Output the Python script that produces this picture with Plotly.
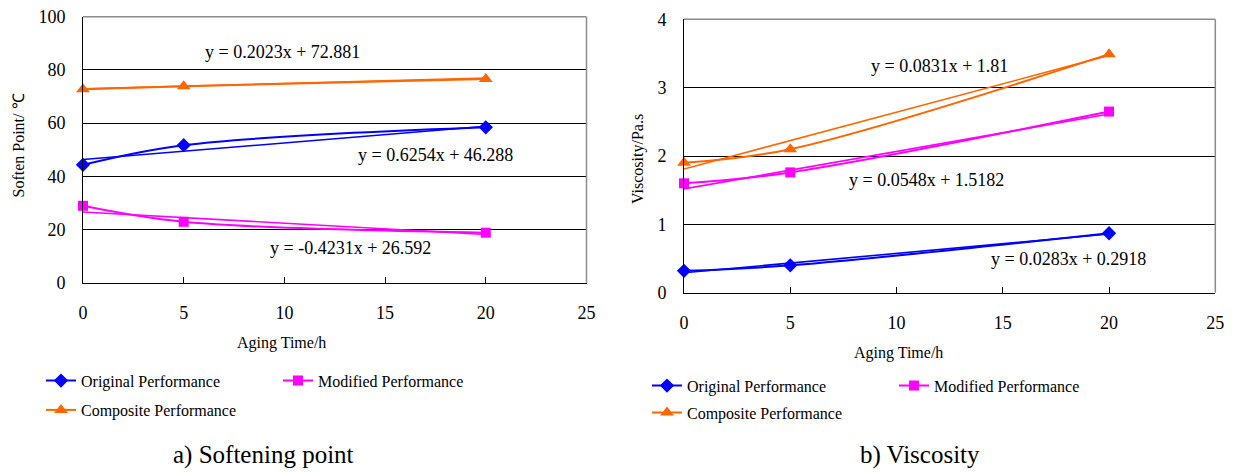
import plotly.graph_objects as go

SERIF = "Liberation Serif"

# Aging time (h) at which both properties were measured
aging_hours = [0, 5, 20]

# Softening point, degC
soft_original = [44.3, 51.7, 58.4]
soft_modified = [28.9, 22.9, 18.8]
soft_composite = [72.7, 73.9, 76.6]

# Viscosity, Pa.s
visc_original = [0.32, 0.40, 0.87]
visc_modified = [1.60, 1.76, 2.65]
visc_composite = [1.90, 2.10, 3.49]

# Linear trend lines: slope, intercept (original, modified, composite)
soft_slopes = [0.6254, -0.4231, 0.2023]
soft_intercepts = [46.288, 26.592, 72.881]
visc_slopes = [0.0283, 0.0548, 0.0831]
visc_intercepts = [0.2918, 1.5182, 1.81]

series_names = ["Original Performance", "Modified Performance", "Composite Performance"]
series_colors = ["#0000FF", "#FF00FF", "#FF6600"]
series_symbols = ["diamond", "square", "triangle-up"]
series_sizes = [11, 10, 12]

# equation label positions (data coordinates)
soft_label_x = [17.5, 13.3, 9.9]
soft_label_y = [48.0, 12.9, 86.8]
visc_label_x = [18.1, 11.4, 12.0]
visc_label_y = [0.49, 1.65, 3.31]

W, H = 1235, 473


def px_x(p):
    return p / W


def px_y(p):
    return 1 - p / H


fig = go.Figure()

panels = [
    dict(xa="x", ya="y", data=[soft_original, soft_modified, soft_composite],
         slopes=soft_slopes, intercepts=soft_intercepts,
         lx=soft_label_x, ly=soft_label_y, legends=["legend", "legend", "legend2"]),
    dict(xa="x2", ya="y2", data=[visc_original, visc_modified, visc_composite],
         slopes=visc_slopes, intercepts=visc_intercepts,
         lx=visc_label_x, ly=visc_label_y, legends=["legend3", "legend3", "legend4"]),
]

for panel in panels:
    for i, values in enumerate(panel["data"]):
        # smoothed measured series
        fig.add_trace(go.Scatter(
            x=aging_hours, y=values, name=series_names[i],
            mode="lines+markers", line=dict(color=series_colors[i], width=2, shape="spline", smoothing=1),
            marker=dict(symbol=series_symbols[i], size=series_sizes[i], color=series_colors[i]),
            xaxis=panel["xa"], yaxis=panel["ya"], legend=panel["legends"][i], cliponaxis=False,
        ))
    for i in range(3):
        b, a = panel["slopes"][i], panel["intercepts"][i]
        tx = [aging_hours[0], aging_hours[-1]]
        fig.add_trace(go.Scatter(
            x=tx, y=[a + b * t for t in tx], mode="lines",
            line=dict(color=series_colors[i], width=1.6), showlegend=False,
            xaxis=panel["xa"], yaxis=panel["ya"], hoverinfo="skip",
        ))
        fig.add_annotation(
            x=panel["lx"][i], y=panel["ly"][i], xref=panel["xa"], yref=panel["ya"],
            text=f"y = {b}x + {a}", showarrow=False, xanchor="center", yanchor="middle",
            font=dict(family=SERIF, size=18, color="black"),
        )

tick_font = dict(family=SERIF, size=18, color="black")
xcommon = dict(range=[0, 25], dtick=5, tick0=0, showline=True, linecolor="black", linewidth=1,
               ticks="inside", ticklen=6, tickcolor="black", showgrid=False, zeroline=False,
               tickfont=tick_font, ticklabelstandoff=14, automargin=False)
ycommon = dict(showline=True, linecolor="black", linewidth=1, ticks="", showgrid=True,
               gridcolor="black", gridwidth=1, zeroline=False, tickfont=tick_font,
               ticklabelstandoff=13, automargin=False)

fig.update_layout(
    width=W, height=H, autosize=False, margin=dict(l=0, r=0, t=0, b=0, pad=0),
    paper_bgcolor="white", plot_bgcolor="white",
    font=dict(family=SERIF, color="black"),
    xaxis=dict(domain=[px_x(83), px_x(586.5)], anchor="y", **xcommon),
    yaxis=dict(domain=[px_y(282.7), px_y(16.7)], anchor="x", range=[0, 100], dtick=20, **ycommon),
    xaxis2=dict(domain=[px_x(684), px_x(1215.3)], anchor="y2", **xcommon),
    yaxis2=dict(domain=[px_y(292.7), px_y(19.3)], anchor="x2", range=[0, 4], dtick=1, **ycommon),
    showlegend=True,
)

legend_common = dict(orientation="h", font=dict(family=SERIF, size=16, color="black"),
                     bgcolor="rgba(0,0,0,0)", xanchor="left", yanchor="middle",
                     entrywidthmode="pixels", itemclick=False, itemdoubleclick=False)
fig.update_layout(
    legend=dict(x=px_x(41), y=px_y(380.7), entrywidth=192, **legend_common),
    legend2=dict(x=px_x(41), y=px_y(410), **legend_common),
    legend3=dict(x=px_x(647), y=px_y(385.7), entrywidth=202, **legend_common),
    legend4=dict(x=px_x(647), y=px_y(412.7), **legend_common),
)

# gray frame on the top and right sides of each plot area
for xa, ya in [("x", "y"), ("x2", "y2")]:
    fig.add_shape(type="line", xref=f"{xa} domain", yref=f"{ya} domain", x0=0, x1=1, y0=1, y1=1,
                  line=dict(color="#8c8c8c", width=1.5))
    fig.add_shape(type="line", xref=f"{xa} domain", yref=f"{ya} domain", x0=1, x1=1, y0=0, y1=1,
                  line=dict(color="#8c8c8c", width=1.5))

# axis titles and panel captions
texts = [
    ("Soften Point/ ℃", 18.5, 146, 16, -90),
    ("Viscosity/Pa.s", 638.5, 159.5, 16, -90),
    ("Aging Time/h", 281, 343.3, 16, 0),
    ("Aging Time/h", 898, 353.3, 16, 0),
    ("a) Softening point", 263, 455, 25, 0),
    ("b) Viscosity", 920, 455, 25, 0),
]
for txt, x, y, size, angle in texts:
    fig.add_annotation(x=px_x(x), y=px_y(y), xref="paper", yref="paper", text=txt,
                       showarrow=False, textangle=angle, xanchor="center", yanchor="middle",
                       font=dict(family=SERIF, size=size, color="black"))

# page without body margins so the figure fills the window exactly
fig.write_html(
    "out.html",
    post_script="document.body.style.margin='0';"
                "document.body.style.overflow='hidden';"
                "Plotly.Plots.resize(document.getElementById('{plot_id}'));",
)
